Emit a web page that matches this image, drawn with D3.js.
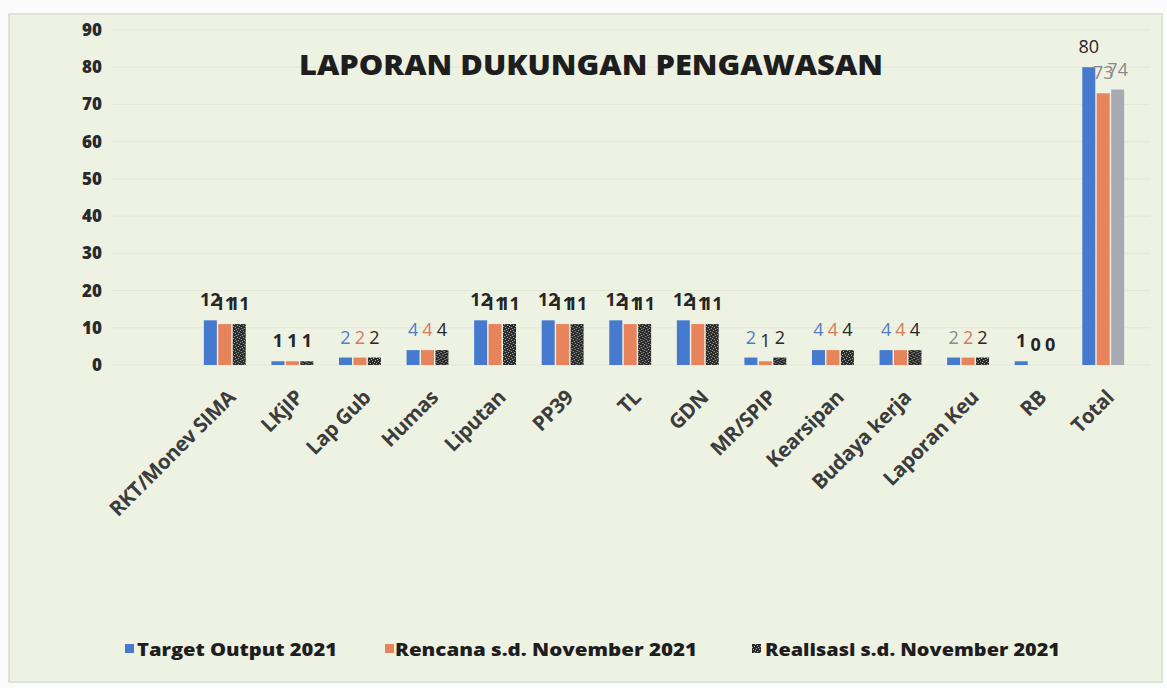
<!DOCTYPE html>
<html>
<head>
<meta charset="utf-8">
<script src="https://cdn.jsdelivr.net/npm/d3@7/dist/d3.min.js"></script>
<style>
  html, body { margin: 0; padding: 0; background: #ffffff; }
  svg { display: block; }
</style>
</head>
<body>
<svg id="chart" width="1167" height="688"></svg>
<script>
// ---------- data ----------
const categories = ["RKT/Monev SIMA", "LKjIP", "Lap Gub", "Humas", "Liputan", "PP39", "TL", "GDN",
  "MR/SPIP", "Kearsipan", "Budaya kerja", "Laporan Keu", "RB", "Total"];
const targetOutput = [12, 1, 2, 4, 12, 12, 12, 12, 2, 4, 4, 2, 1, 80];
const rencana      = [11, 1, 2, 4, 11, 11, 11, 11, 1, 4, 4, 2, 0, 73];
const realisasi    = [11, 1, 2, 4, 11, 11, 11, 11, 2, 4, 4, 2, 0, 74];
const seriesNames = ["Target Output 2021", "Rencana s.d. November 2021", "Realisasi s.d. November 2021"];
const yTicks = [0, 10, 20, 30, 40, 50, 60, 70, 80, 90];
const title = "LAPORAN DUKUNGAN PENGAWASAN";

// ---------- styles ----------
const BLUE = "#467ace", ORANGE = "#e8845c", DARK = "#262626", GREY = "#a9a9b3";
const labelBlue = "#4f7dc8", labelOrange = "#d47a5e", labelGrey = "#8a8a8a";
const labelColours = {
  "Lap Gub": [labelBlue, labelOrange, DARK],
  "Humas": [labelBlue, labelOrange, DARK],
  "MR/SPIP": [labelBlue, DARK, DARK],
  "Kearsipan": [labelBlue, labelOrange, DARK],
  "Budaya kerja": [labelBlue, labelOrange, DARK],
  "Laporan Keu": [labelGrey, labelOrange, DARK],
  "Total": [DARK, labelGrey, labelGrey]
};

const svg = d3.select("#chart");
const W = 1167, H = 688;

// frame
svg.append("rect").attr("x", 0).attr("y", 0).attr("width", W).attr("height", H).attr("fill", "#fbfbfb");
svg.append("rect").attr("x", 9).attr("y", 14).attr("width", 1153).attr("height", 668)
  .attr("fill", "#eef2e3").attr("stroke", "#d8dbd2").attr("stroke-width", 1.5);

// speckle pattern for realisasi
const defs = svg.append("defs");
const pat = defs.append("pattern").attr("id", "speckle").attr("patternUnits", "userSpaceOnUse")
  .attr("width", 6).attr("height", 6);
pat.append("rect").attr("width", 6).attr("height", 6).attr("fill", "#2b2b2b");
[[0,0],[3,1],[1,3],[4,4],[5,2],[2,5]].forEach(([x,y]) =>
  pat.append("rect").attr("x", x).attr("y", y).attr("width", 1).attr("height", 1).attr("fill", "#b0b0b0"));

// scales
const x0 = d3.scaleBand().domain(categories).range([191, 1137]).paddingInner(0.38).paddingOuter(0.19);
const seriesKeys = [0, 1, 2];
const x1 = d3.scaleBand().domain(seriesKeys).range([0, x0.bandwidth()]).paddingInner(0.1);
const y = d3.scaleLinear().domain([0, 90]).range([365, 30]);

// faint gridlines
svg.append("g").selectAll("line").data(yTicks).join("line")
  .attr("x1", 112).attr("x2", 1150)
  .attr("y1", d => y(d)).attr("y2", d => y(d))
  .attr("stroke", "#e3e7d8").attr("stroke-width", 1);

// y axis
const yAxis = d3.axisLeft(y).tickValues(yTicks).tickSize(0).tickPadding(0);
const gy = svg.append("g").attr("transform", "translate(102,0)").call(yAxis);
gy.select(".domain").remove();
gy.selectAll("text").attr("font-family", "'Open Sans', sans-serif").attr("font-weight", 800)
  .attr("font-size", 17).attr("fill", "#2a2a2a").attr("text-anchor", "end");

// x axis labels
const xAxis = d3.axisBottom(x0).tickSize(0).tickPadding(0);
const gx = svg.append("g").attr("transform", "translate(-4,393)").call(xAxis);
gx.select(".domain").remove();
gx.selectAll("text")
  .attr("font-family", "'Open Sans', sans-serif").attr("font-weight", 700)
  .attr("font-size", 20.5).attr("fill", "#3c3c3c").attr("letter-spacing", "-0.4px")
  .attr("text-anchor", "end").attr("dy", "0.75em").attr("dx", "0.35em")
  .attr("transform", "rotate(-45)");

// bars
const series = [targetOutput, rencana, realisasi];
const fills = (s, cat) => s === 0 ? BLUE : s === 1 ? ORANGE : (cat === "Total" ? GREY : "url(#speckle)");
const groups = svg.append("g").selectAll("g").data(categories).join("g")
  .attr("transform", d => `translate(${x0(d)},0)`);
groups.selectAll("rect").data((cat, i) => seriesKeys.map(s => ({ cat, s, v: series[s][i] })))
  .join("rect")
  .attr("x", d => x1(d.s))
  .attr("width", x1.bandwidth())
  .attr("y", d => y(d.v))
  .attr("height", d => y(0) - y(d.v))
  .attr("fill", d => fills(d.s, d.cat));

// value labels
groups.selectAll("text").data((cat, i) => seriesKeys.map(s => ({ cat, s, v: series[s][i] })))
  .join("text")
  .attr("x", d => x1(d.s) + x1.bandwidth() / 2)
  .attr("y", d => y(d.v) - 14)
  .attr("text-anchor", "middle")
  .attr("font-family", "'Open Sans', sans-serif")
  .attr("font-size", 18)
  .attr("font-weight", d => (d.cat === "Total" || labelColours[d.cat]) ? 400 : 700)
  .attr("fill", d => labelColours[d.cat] ? labelColours[d.cat][d.s] : DARK)
  .text(d => d.v);

// title
svg.append("text").attr("x", 591).attr("y", 75).attr("text-anchor", "middle")
  .attr("font-family", "'Open Sans', sans-serif").attr("font-weight", 800)
  .attr("font-size", 29).attr("fill", "#1e1e1e")
  .attr("textLength", 584).attr("lengthAdjust", "spacingAndGlyphs")
  .text(title);

// legend
const legendItems = [
  { name: seriesNames[0], fill: BLUE, sx: 125, tx: 137, tw: 200 },
  { name: seriesNames[1], fill: ORANGE, sx: 385, tx: 395, tw: 302 },
  { name: seriesNames[2], fill: "url(#speckle)", sx: 752, tx: 765, tw: 295 }
];
const lg = svg.append("g").selectAll("g").data(legendItems).join("g");
lg.append("rect").attr("x", d => d.sx).attr("y", 644).attr("width", 9).attr("height", 9)
  .attr("fill", d => d.fill);
lg.append("text").attr("x", d => d.tx).attr("y", 656)
  .attr("font-family", "'Open Sans', sans-serif").attr("font-weight", 800)
  .attr("font-size", 18).attr("fill", "#1e1e1e")
  .attr("textLength", d => d.tw).attr("lengthAdjust", "spacingAndGlyphs")
  .text(d => d.name);
</script>
</body>
</html>
